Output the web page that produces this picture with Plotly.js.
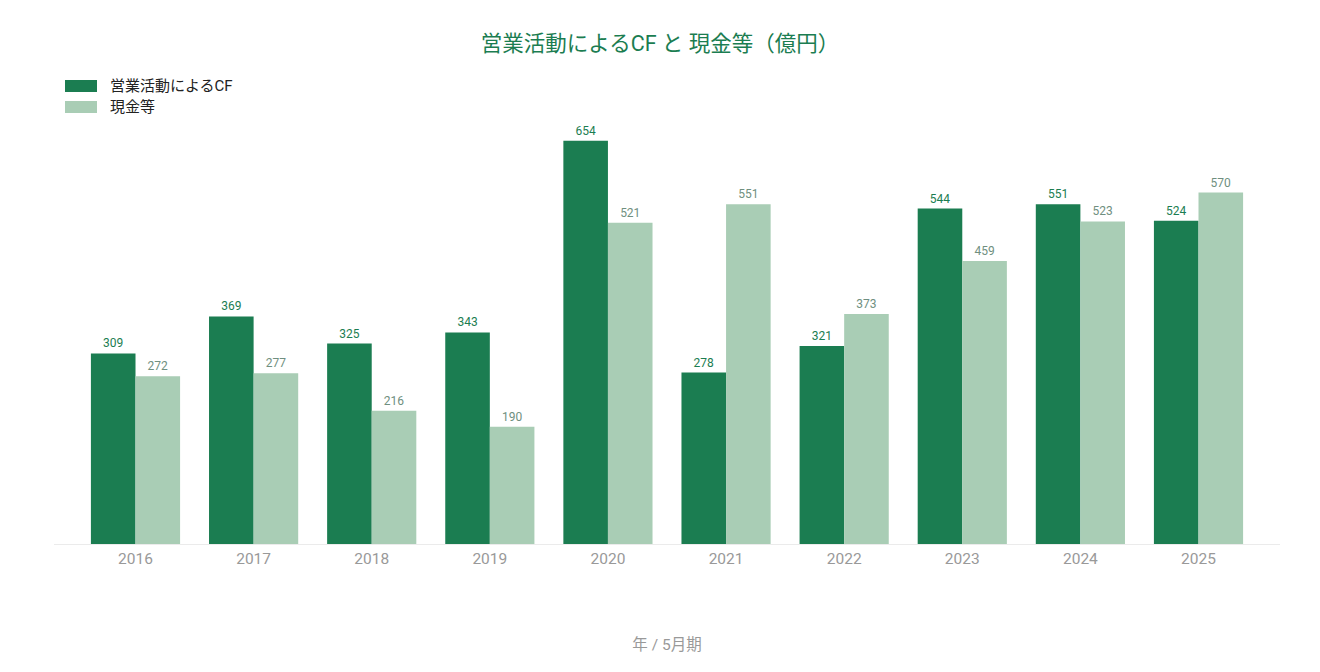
<!DOCTYPE html>
<html>
<head>
<meta charset="utf-8">
<script src="https://cdn.plot.ly/plotly-3.0.1.min.js"></script>
<style>html,body{margin:0;padding:0;background:#fff;}#chart{width:1320px;height:672px;}</style>
</head>
<body>
<div id="chart"></div>
<script>
const years = ['2016','2017','2018','2019','2020','2021','2022','2023','2024','2025'];
const seriesNames = ['営業活動によるCF', '現金等'];
const operatingCF = [309, 369, 325, 343, 654, 278, 321, 544, 551, 524];
const cashEtc = [272, 277, 216, 190, 521, 551, 373, 459, 523, 570];
const chartTitle = '営業活動によるCF と 現金等（億円）';
const xTitle = '年 / 5月期';

const darkGreen = '#1b7d51';
const lightGreen = '#a9cdb5';
const font = 'Roboto, "Noto Sans CJK JP", "Noto Sans", sans-serif';

const traces = [
  {
    type: 'bar', name: seriesNames[0], x: years, y: operatingCF,
    marker: {color: darkGreen},
    text: operatingCF.map(String), textposition: 'outside',
    textfont: {size: 12, color: darkGreen, family: font},
    cliponaxis: false, hoverinfo: 'x+y+name', showlegend: false
  },
  {
    type: 'bar', name: seriesNames[1], x: years, y: cashEtc,
    marker: {color: lightGreen},
    text: cashEtc.map(String), textposition: 'outside',
    textfont: {size: 12, color: '#6f8f80', family: font},
    cliponaxis: false, hoverinfo: 'x+y+name', showlegend: false
  }
];

const layout = {
  width: 1320, height: 672,
  paper_bgcolor: '#fff', plot_bgcolor: '#fff',
  font: {family: font, color: '#333'},
  margin: {l: 54, r: 40, t: 100, b: 128},
  title: {text: chartTitle, font: {size: 21.5, color: darkGreen, family: font}, x: 0.5, xanchor: 'center', y: 0.935, yanchor: 'middle'},
  barmode: 'group', bargap: 0.245, bargroupgap: 0,
  xaxis: {
    type: 'category', range: [-0.69, 9.69],
    showline: true, linecolor: '#ebebeb', linewidth: 1,
    showgrid: false, ticks: '', zeroline: false,
    tickfont: {size: 15.5, color: '#999', family: font},
    title: {text: xTitle, font: {size: 15.5, color: '#999', family: font}, standoff: 72}
  },
  yaxis: {
    range: [0, 720], showgrid: false, showline: false, zeroline: false,
    showticklabels: false, ticks: ''
  },
  showlegend: false,
  shapes: [
    {type: 'rect', xref: 'paper', yref: 'paper', x0: (65-54)/1226, x1: (97-54)/1226, y0: (544-92)/444, y1: (544-80)/444, fillcolor: darkGreen, line: {width: 0}},
    {type: 'rect', xref: 'paper', yref: 'paper', x0: (65-54)/1226, x1: (97-54)/1226, y0: (544-113)/444, y1: (544-101)/444, fillcolor: lightGreen, line: {width: 0}}
  ],
  annotations: [
    {xref: 'paper', yref: 'paper', x: (108-54)/1226, y: (544-86)/444, xanchor: 'left', yanchor: 'middle', text: seriesNames[0], showarrow: false, font: {size: 15, color: '#222', family: font}},
    {xref: 'paper', yref: 'paper', x: (108-54)/1226, y: (544-107)/444, xanchor: 'left', yanchor: 'middle', text: seriesNames[1], showarrow: false, font: {size: 15, color: '#222', family: font}}
  ]
};

Plotly.newPlot('chart', traces, layout, {displayModeBar: false});
</script>
</body>
</html>
